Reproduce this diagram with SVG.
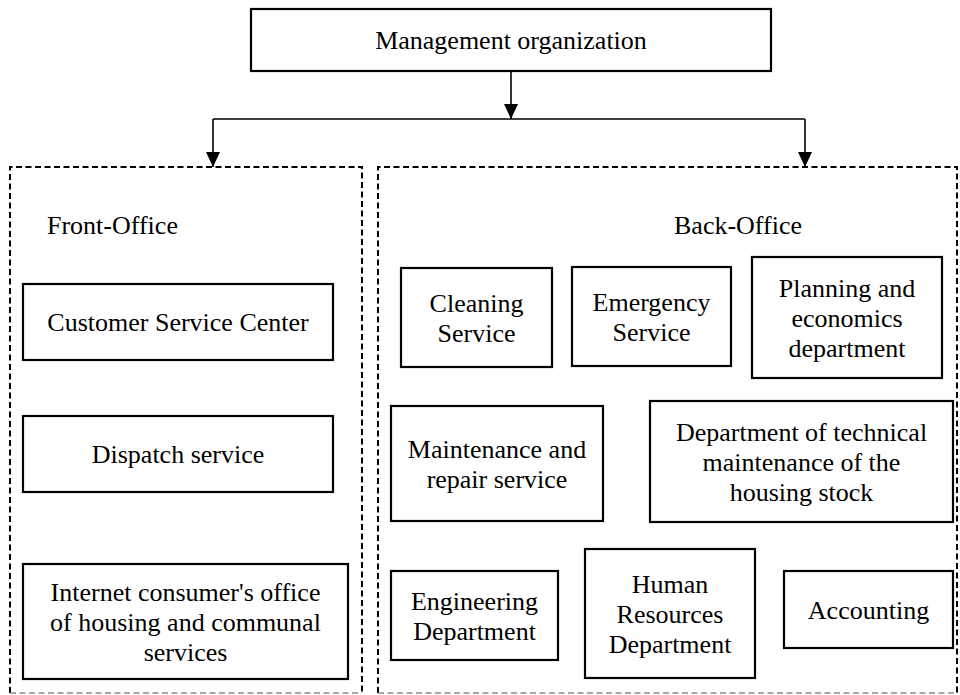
<svg xmlns="http://www.w3.org/2000/svg" width="960" height="695" viewBox="0 0 960 695">
  <style>
    .box { fill: #ffffff; stroke: #000000; stroke-width: 2.2; }
    .zone { fill: none; stroke: #000000; stroke-width: 2; stroke-dasharray: 6 3.5; }
    .zone-bottom { fill: none; stroke: #8a8a8a; stroke-width: 1.5; stroke-dasharray: 6 3.5; }
    .wire { fill: none; stroke: #000000; stroke-width: 1.6; }
    text { font-family: "Liberation Serif", "Times New Roman", serif; font-size: 26px; fill: #000000; }
    .c { text-anchor: middle; }
  </style>
  <defs>
    <marker id="arrow" viewBox="0 0 15 14" refX="15" refY="7" markerWidth="15" markerHeight="14" markerUnits="userSpaceOnUse" orient="auto">
      <path d="M0,0 L15,7 L0,14 z" fill="#000000"/>
    </marker>
  </defs>

  <rect width="960" height="695" fill="#ffffff"/>

  <!-- dashed office zones -->
  <g id="front-office">
    <path class="zone" d="M10,693 V167 H362 V693"/>
    <line class="zone-bottom" x1="10" y1="693" x2="362" y2="693"/>
    <text x="47" y="234">Front-Office</text>
  </g>
  <g id="back-office">
    <path class="zone" d="M378,693 V167 H957 V693"/>
    <line class="zone-bottom" x1="378" y1="693" x2="957" y2="693"/>
    <text x="674" y="234">Back-Office</text>
  </g>

  <!-- connectors -->
  <g id="connectors">
    <path class="wire" d="M511,71 V119" marker-end="url(#arrow)"/>
    <path class="wire" d="M213,119 H805"/>
    <path class="wire" d="M213,119 V167" marker-end="url(#arrow)"/>
    <path class="wire" d="M805,119 V167" marker-end="url(#arrow)"/>
  </g>

  <!-- top node -->
  <g id="management">
    <rect class="box" x="251" y="9" width="520" height="62"/>
    <text class="c" x="511" y="49">Management organization</text>
  </g>

  <!-- front-office units -->
  <g id="customer-service">
    <rect class="box" x="23" y="284" width="310" height="76"/>
    <text class="c" x="178" y="331">Customer Service Center</text>
  </g>
  <g id="dispatch">
    <rect class="box" x="23" y="416" width="310" height="76"/>
    <text class="c" x="178" y="463">Dispatch service</text>
  </g>
  <g id="internet-office">
    <rect class="box" x="23" y="564" width="325" height="115"/>
    <text class="c" x="185.5" y="600.5">Internet consumer's office</text>
    <text class="c" x="185.5" y="630.5">of housing and communal</text>
    <text class="c" x="185.5" y="660.5">services</text>
  </g>

  <!-- back-office units -->
  <g id="cleaning">
    <rect class="box" x="401" y="268" width="151" height="99"/>
    <text class="c" x="476.5" y="311.5">Cleaning</text>
    <text class="c" x="476.5" y="341.5">Service</text>
  </g>
  <g id="emergency">
    <rect class="box" x="572" y="267" width="159" height="99"/>
    <text class="c" x="651.5" y="310.5">Emergency</text>
    <text class="c" x="651.5" y="340.5">Service</text>
  </g>
  <g id="planning">
    <rect class="box" x="752" y="257" width="190" height="121"/>
    <text class="c" x="847" y="296.5">Planning and</text>
    <text class="c" x="847" y="326.5">economics</text>
    <text class="c" x="847" y="356.5">department</text>
  </g>
  <g id="maintenance">
    <rect class="box" x="391" y="406" width="212" height="115"/>
    <text class="c" x="497" y="457.5">Maintenance and</text>
    <text class="c" x="497" y="487.5">repair service</text>
  </g>
  <g id="technical-department">
    <rect class="box" x="650" y="401" width="303" height="121"/>
    <text class="c" x="801.5" y="440.5">Department of technical</text>
    <text class="c" x="801.5" y="470.5">maintenance of the</text>
    <text class="c" x="801.5" y="500.5">housing stock</text>
  </g>
  <g id="engineering">
    <rect class="box" x="391" y="571" width="167" height="89"/>
    <text class="c" x="474.5" y="609.5">Engineering</text>
    <text class="c" x="474.5" y="639.5">Department</text>
  </g>
  <g id="human-resources">
    <rect class="box" x="585" y="549" width="170" height="129"/>
    <text class="c" x="670" y="592.5">Human</text>
    <text class="c" x="670" y="622.5">Resources</text>
    <text class="c" x="670" y="652.5">Department</text>
  </g>
  <g id="accounting">
    <rect class="box" x="784" y="571" width="169" height="77"/>
    <text class="c" x="868.5" y="618.5">Accounting</text>
  </g>
</svg>
